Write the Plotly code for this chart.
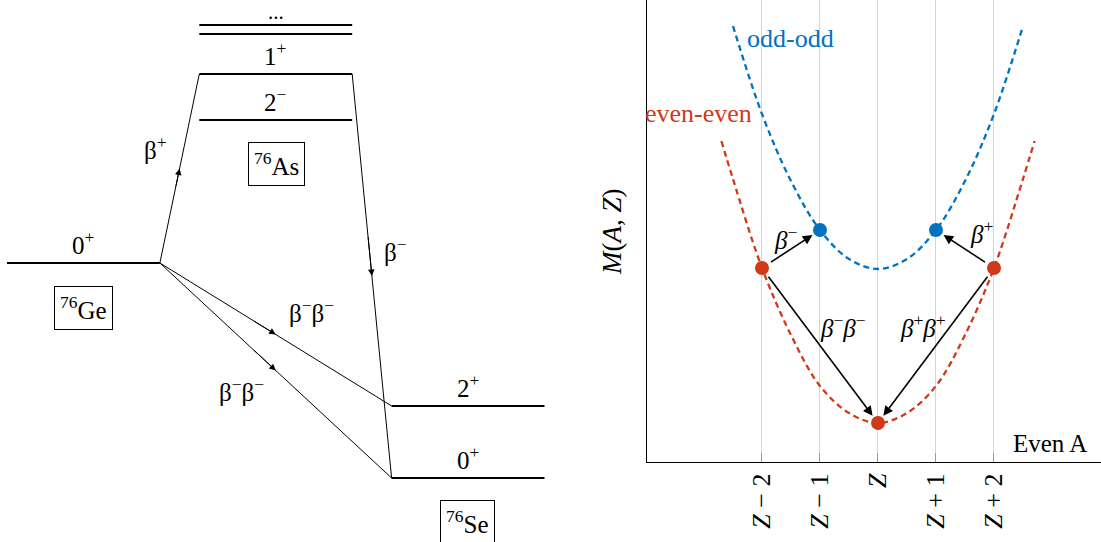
import plotly.graph_objects as go

# ---------------------------------------------------------------------------
# Level scheme of the A = 76 triplet (energies in arbitrary units, 76Ge g.s. = 0)
# ---------------------------------------------------------------------------
nuclides = ["<sup>76</sup>Ge", "<sup>76</sup>As", "<sup>76</sup>Se"]
columns = [0, 1, 2]
level_width = 0.795

ge_levels = [0.0]
ge_spins = ["0<sup>+</sup>"]
as_levels = [14.3, 18.9]
as_spins = ["2<sup>−</sup>", "1<sup>+</sup>"]
as_higher = [22.9, 23.8]
se_levels = [-14.3, -21.5]
se_spins = ["2<sup>+</sup>", "0<sup>+</sup>"]

# (label, from column, from energy, to column, to energy)
transitions = [
    ("β<sup>+</sup>", 0, 0.0, 1, 18.9),
    ("β<sup>−</sup>", 1, 18.9, 2, -21.5),
    ("β<sup>−</sup>β<sup>−</sup>", 0, 0.0, 2, -14.3),
    ("β<sup>−</sup>β<sup>−</sup>", 0, 0.0, 2, -21.5),
]

# ---------------------------------------------------------------------------
# Atomic mass parabolas for even A
# ---------------------------------------------------------------------------
z_ticks = [-2, -1, 0, 1, 2]
z_labels = ["<i>Z</i> − 2", "<i>Z</i> − 1", "<i>Z</i>", "<i>Z</i> + 1", "<i>Z</i> + 2"]

ee_z = [-2, 0, 2]
ee_mass = [19.4, 3.9, 19.4]
oo_z = [-1, 1]
oo_mass = [23.2, 23.2]

ee_curve_z = [-2.7, -2.5, -2.0, -1.5, -1.0, -0.5, 0.0, 0.5, 1.0, 1.5, 2.0, 2.5, 2.7]
ee_curve_mass = [32.1, 28.3, 19.4, 12.7, 7.6, 4.9, 3.9, 4.9, 7.6, 12.7, 19.4, 28.3, 32.1]
oo_curve_z = [-2.5, -2.0, -1.5, -1.0, -0.5, 0.0, 0.5, 1.0, 1.5, 2.0, 2.5]
oo_curve_mass = [43.6, 34.8, 28.1, 23.2, 20.3, 19.3, 20.3, 23.2, 28.1, 34.8, 43.6]

BLUE = "#0072C0"
RED = "#D0391A"
FONT = "Liberation Serif"
TXT = 25

fig = go.Figure()

# ---- level lines ---------------------------------------------------------
lvl_x, lvl_y = [], []
for col, levels in zip(columns, [ge_levels, as_levels + as_higher, se_levels]):
    for e in levels:
        lvl_x += [col, col + level_width, None]
        lvl_y += [e, e, None]
fig.add_trace(go.Scatter(x=lvl_x, y=lvl_y, mode="lines", xaxis="x2", yaxis="y2",
                         line=dict(color="black", width=2), hoverinfo="skip"))

# ---- transitions -----------------------------------------------------------
tr_x, tr_y = [], []
for _, c0, e0, c1, e1 in transitions:
    tr_x += [c0 + level_width, c1, None]
    tr_y += [e0, e1, None]
fig.add_trace(go.Scatter(x=tr_x, y=tr_y, mode="lines", xaxis="x2", yaxis="y2",
                         line=dict(color="black", width=1), hoverinfo="skip"))

annotations = []

# arrow tips half way along each transition
for _, c0, e0, c1, e1 in transitions:
    xs, ys = c0 + level_width, e0
    xm, ym = (xs + c1) / 2, (ys + e1) / 2
    annotations.append(dict(x=xm, y=ym, ax=xs + 0.8 * (xm - xs), ay=ys + 0.8 * (ym - ys),
                            xref="x2", yref="y2", axref="x2", ayref="y2", text="",
                            showarrow=True, arrowhead=2, arrowsize=1.3, arrowwidth=1,
                            arrowcolor="black"))

# transition labels
tr_label_pos = [(0.77, 11.5), (2.02, 1.3), (1.585, -4.8), (1.22, -12.7)]
for (lab, *_), (lx, ly) in zip(transitions, tr_label_pos):
    annotations.append(dict(x=lx, y=ly, xref="x2", yref="y2", text=lab, showarrow=False,
                            font=dict(family=FONT, size=TXT, color="black")))

# spin-parity labels above the levels
for col, levels, spins in [(0, ge_levels, ge_spins), (1, as_levels, as_spins), (2, se_levels, se_spins)]:
    for e, s in zip(levels, spins):
        annotations.append(dict(x=col + level_width / 2, y=e + 2.0, xref="x2", yref="y2",
                                text=s, showarrow=False,
                                font=dict(family=FONT, size=TXT, color="black")))
annotations.append(dict(x=1 + level_width / 2, y=max(as_higher) + 1.3, xref="x2", yref="y2",
                        text="...", showarrow=False,
                        font=dict(family=FONT, size=TXT - 4, color="black")))

# boxed nuclide names
box_pos = [(0.397, -4.5), (1.4, 9.9), (2.397, -25.9)]
for name, (bx, by) in zip(nuclides, box_pos):
    annotations.append(dict(x=bx, y=by, xref="x2", yref="y2", text=name, showarrow=False,
                            font=dict(family=FONT, size=TXT, color="black"),
                            bordercolor="black", borderwidth=1, borderpad=5))

# ---- mass parabolas -------------------------------------------------------
fig.add_trace(go.Scatter(x=oo_curve_z, y=oo_curve_mass, mode="lines", line_shape="spline",
                         line=dict(color=BLUE, width=2.3, dash="6px,4px"), hoverinfo="skip"))
fig.add_trace(go.Scatter(x=ee_curve_z, y=ee_curve_mass, mode="lines", line_shape="spline",
                         line=dict(color=RED, width=2.3, dash="6px,4px"), hoverinfo="skip"))
fig.add_trace(go.Scatter(x=oo_z, y=oo_mass, mode="markers",
                         marker=dict(color=BLUE, size=14), hoverinfo="skip"))
fig.add_trace(go.Scatter(x=ee_z, y=ee_mass, mode="markers",
                         marker=dict(color=RED, size=14), hoverinfo="skip"))

# decay arrows between the parabolas
decays = [(ee_z[0], ee_mass[0], oo_z[0], oo_mass[0]),
          (ee_z[2], ee_mass[2], oo_z[1], oo_mass[1]),
          (ee_z[0], ee_mass[0], ee_z[1], ee_mass[1]),
          (ee_z[2], ee_mass[2], ee_z[1], ee_mass[1])]
for z0, m0, z1, m1 in decays:
    annotations.append(dict(x=z1, y=m1, ax=z0, ay=m0, xref="x", yref="y", axref="x", ayref="y",
                            text="", showarrow=True, arrowhead=2, arrowsize=1.2, arrowwidth=1.6,
                            arrowcolor="black", standoff=9, startstandoff=9))

decay_labels = [("<i>β</i><sup>−</sup>", -1.6, 22.4), ("<i>β</i><sup>+</sup>", 1.79, 23.0),
                ("<i>β</i><sup>−</sup><i>β</i><sup>−</sup>", -0.6, 13.6),
                ("<i>β</i><sup>+</sup><i>β</i><sup>+</sup>", 0.78, 13.6)]
for lab, lx, ly in decay_labels:
    annotations.append(dict(x=lx, y=ly, xref="x", yref="y", text=lab, showarrow=False,
                            font=dict(family=FONT, size=TXT, color="black")))

annotations += [
    dict(x=-1.5, y=42.4, xref="x", yref="y", text="odd-odd", showarrow=False,
         font=dict(family=FONT, size=TXT + 1, color=BLUE)),
    dict(x=-3.1, y=34.9, xref="x", yref="y", text="even-even", showarrow=False,
         font=dict(family=FONT, size=TXT + 1, color=RED)),
    dict(x=2.97, y=1.9, xref="x", yref="y", text="Even A", showarrow=False,
         font=dict(family=FONT, size=TXT, color="black")),
    dict(x=0.5559, y=0.572, xref="paper", yref="paper", text="<i>M</i>(<i>A</i>, <i>Z</i>)",
         textangle=-90, showarrow=False, font=dict(family=FONT, size=27, color="black")),
]

fig.update_layout(
    width=1101, height=542,
    margin=dict(l=0, r=0, t=0, b=0),
    paper_bgcolor="white", plot_bgcolor="white",
    showlegend=False,
    annotations=annotations,
    xaxis=dict(domain=[0.5872, 1.0], range=[-3.991, 3.845], anchor="y",
               tickmode="array", tickvals=z_ticks, ticktext=z_labels, tickangle=-90,
               ticks="inside", ticklen=9, tickcolor="#9a9a9a", tickwidth=1,
               tickfont=dict(family=FONT, size=26, color="black"),
               showgrid=True, gridcolor="#d6d6d6", gridwidth=1,
               showline=True, linecolor="black", linewidth=1.3, zeroline=False),
    yaxis=dict(domain=[0.1476, 1.0], range=[0, 46.2], anchor="x",
               showticklabels=False, ticks="", showgrid=False,
               showline=True, linecolor="black", linewidth=1.3, zeroline=False),
    xaxis2=dict(domain=[0, 0.4995], range=[-7 / 192.5, 543.5 / 192.5], anchor="y2", visible=False),
    yaxis2=dict(domain=[0, 1], range=[-27.9, 26.3], anchor="x2", visible=False),
)

fig.write_html("out.html")
